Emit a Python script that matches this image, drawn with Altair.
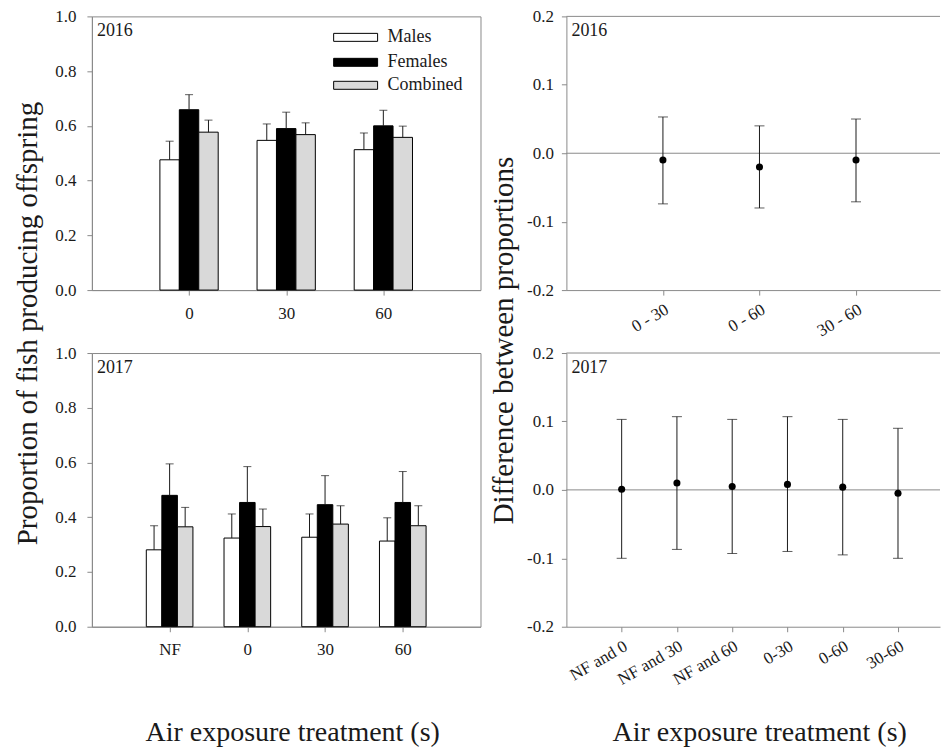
import altair as alt
import pandas as pd

FONT = "Liberation Serif"
FRAME = "#8a8a8a"
INK = "#1a1a1a"

# Bar series shared by both years
SERIES = ["Males", "Females", "Combined"]
FILLS = ["#ffffff", "#000000", "#d9d9d9"]

# 2016 proportions producing offspring (mean and upper error)
cats_2016 = ["0", "30", "60"]
males_2016 = [0.476, 0.547, 0.513]
males_2016_err = [0.068, 0.060, 0.061]
females_2016 = [0.659, 0.590, 0.600]
females_2016_err = [0.055, 0.060, 0.057]
combined_2016 = [0.577, 0.568, 0.558]
combined_2016_err = [0.044, 0.043, 0.041]

# 2017 proportions producing offspring
cats_2017 = ["NF", "0", "30", "60"]
males_2017 = [0.281, 0.324, 0.327, 0.313]
males_2017_err = [0.088, 0.088, 0.085, 0.085]
females_2017 = [0.480, 0.454, 0.446, 0.454]
females_2017_err = [0.115, 0.131, 0.106, 0.113]
combined_2017 = [0.365, 0.366, 0.375, 0.369]
combined_2017_err = [0.071, 0.064, 0.067, 0.073]

# Differences between proportions with confidence limits
pairs_2016 = ["0 - 30", "0 - 60", "30 - 60"]
diff_2016 = [-0.010, -0.020, -0.010]
diff_2016_lo = [-0.074, -0.080, -0.071]
diff_2016_hi = [0.053, 0.040, 0.050]

pairs_2017 = ["NF and 0", "NF and 30", "NF and 60", "0-30", "0-60", "30-60"]
diff_2017 = [0.001, 0.010, 0.005, 0.008, 0.004, -0.005]
diff_2017_lo = [-0.100, -0.087, -0.093, -0.090, -0.095, -0.100]
diff_2017_hi = [0.103, 0.107, 0.103, 0.107, 0.103, 0.090]

BAR_W = 0.2
LEFT_W, RIGHT_W, PANEL_H = 389, 374, 274
FILL_SCALE = alt.Scale(domain=SERIES, range=FILLS)
AXIS_STYLE = dict(labelFont=FONT, labelFontSize=17, labelColor=INK,
                  titleFont=FONT, titleColor=INK, titleFontWeight="normal",
                  domainColor=FRAME, tickColor=FRAME, tickSize=5, grid=False,
                  labelOverlap=False)


def label_expr(labels):
    return "[" + ", ".join(repr(s) for s in labels) + "][round(datum.value) - 1]"


def bar_table(cats, means, errs):
    rows = []
    for i, cat in enumerate(cats):
        for k, name in enumerate(SERIES):
            centre = i + 1 + (k - 1) * BAR_W
            v = means[k][i]
            rows.append({"cat": cat, "series": name, "value": v,
                         "top": v + errs[k][i], "centre": centre,
                         "left": centre - BAR_W / 2, "right": centre + BAR_W / 2})
    return pd.DataFrame(rows)


def year_text(year):
    return alt.Chart(pd.DataFrame({"year": [year]})).mark_text(
        align="left", baseline="top", fontSize=18, font=FONT, color=INK
    ).encode(x=alt.value(5), y=alt.value(6), text="year:N")


def bar_panel(cats, means, errs, year, legend, x_title, y_title):
    df = bar_table(cats, means, errs)
    n = len(cats)
    xs = alt.Scale(domain=[0, n + 1], nice=False, zero=False)
    ys = alt.Scale(domain=[0, 1], nice=False)
    x_axis = dict(AXIS_STYLE, values=list(range(1, n + 1)), labelExpr=label_expr(cats),
                  labelAngle=0, labelPadding=10)
    if x_title:
        x_axis.update(titleX=LEFT_W / 2 + 6, titleY=114, titleFontSize=28,
                      titleBaseline="alphabetic", titleAlign="center")
    y_axis = dict(AXIS_STYLE, values=[0, 0.2, 0.4, 0.6, 0.8, 1.0], format=".1f",
                  labelPadding=11)
    if y_title:
        y_axis.update(titleX=-64, titleY=307, titleFontSize=29, titleAngle=270,
                      titleAlign="center", titleBaseline="middle")

    def X(field):
        return alt.X(field, scale=xs, axis=alt.Axis(**x_axis), title=x_title)

    def Y(field):
        return alt.Y(field, scale=ys, axis=alt.Axis(**y_axis), title=y_title)

    base = alt.Chart(df)
    bars = base.mark_rect(stroke="black", strokeWidth=1).encode(
        x=X("left:Q"), x2="right:Q", y=Y("value:Q"), y2=alt.datum(0),
        fill=alt.Fill("series:N", scale=FILL_SCALE, legend=None),
    )
    whiskers = base.mark_rule(color=INK, strokeWidth=1).encode(
        x=X("centre:Q"), y=Y("value:Q"), y2="top:Q")
    caps = base.mark_tick(orient="horizontal", size=8, thickness=1, color=INK).encode(
        x=X("centre:Q"), y=Y("top:Q"))
    layers = [bars, whiskers, caps, year_text(year)]
    if legend:
        legend_df = pd.DataFrame({"series": SERIES})
        for row_y, name in zip([21, 46, 69], SERIES):
            one = alt.Chart(legend_df).transform_filter(alt.datum.series == name)
            layers.append(one.mark_tick(orient="horizontal", size=44, thickness=8,
                                        stroke="black", strokeWidth=1, opacity=1,
                                        filled=True).encode(
                x=alt.value(264), y=alt.value(row_y),
                fill=alt.Fill("series:N", scale=FILL_SCALE, legend=None)))
            layers.append(one.mark_text(align="left", baseline="middle", fontSize=18,
                                        font=FONT, color=INK).encode(
                x=alt.value(296), y=alt.value(row_y), text="series:N"))
    return alt.layer(*layers).properties(
        width=LEFT_W, height=PANEL_H, view=alt.ViewBackground(stroke=FRAME, strokeWidth=1))


def diff_panel(pairs, est, lo, hi, year, x_max, x_title, y_title):
    n = len(pairs)
    df = pd.DataFrame({"pair": pairs, "pos": list(range(1, n + 1)),
                       "est": est, "lo": lo, "hi": hi})
    xs = alt.Scale(domain=[0, x_max], nice=False, zero=False)
    ys = alt.Scale(domain=[-0.2, 0.2], nice=False)
    x_axis = dict(AXIS_STYLE, values=list(range(1, n + 1)), labelExpr=label_expr(pairs),
                  labelAngle=330, labelPadding=6)
    if x_title:
        x_axis.update(titleX=193, titleY=114, titleFontSize=28,
                      titleBaseline="alphabetic", titleAlign="center")
    y_axis = dict(AXIS_STYLE, values=[-0.2, -0.1, 0, 0.1, 0.2], labelPadding=8,
                  labelExpr="replace(format(datum.value, '.1f'), '\u2212', '-')")
    if y_title:
        y_axis.update(titleX=-63, titleY=324, titleFontSize=29, titleAngle=270,
                      titleAlign="center", titleBaseline="middle")

    def X(field):
        return alt.X(field, scale=xs, axis=alt.Axis(**x_axis), title=x_title)

    def Y(field):
        return alt.Y(field, scale=ys, axis=alt.Axis(**y_axis), title=y_title)

    zero_df = pd.DataFrame({"zero": [0.0]})
    zero_line = alt.Chart(zero_df).mark_rule(color=FRAME, strokeWidth=1).encode(
        y=Y("zero:Q"))
    top_edge = alt.Chart(zero_df).mark_rule(color=FRAME, strokeWidth=1).encode(
        y=alt.value(0))
    base = alt.Chart(df)
    bars = base.mark_rule(color=INK, strokeWidth=1).encode(
        x=X("pos:Q"), y=Y("lo:Q"), y2="hi:Q")
    cap_lo = base.mark_tick(orient="horizontal", size=10, thickness=1, color=INK).encode(
        x=X("pos:Q"), y=Y("lo:Q"))
    cap_hi = base.mark_tick(orient="horizontal", size=10, thickness=1, color=INK).encode(
        x=X("pos:Q"), y=Y("hi:Q"))
    dots = base.mark_circle(size=50, color="black", opacity=1).encode(
        x=X("pos:Q"), y=Y("est:Q"))
    return alt.layer(zero_line, top_edge, bars, cap_lo, cap_hi, dots,
                     year_text(year)).properties(
        width=RIGHT_W, height=PANEL_H,
        view=alt.ViewBackground(strokeOpacity=0))


top_left = bar_panel(cats_2016,
                     [males_2016, females_2016, combined_2016],
                     [males_2016_err, females_2016_err, combined_2016_err],
                     "2016", True, None, "Proportion of fish producing offspring")
bottom_left = bar_panel(cats_2017,
                        [males_2017, females_2017, combined_2017],
                        [males_2017_err, females_2017_err, combined_2017_err],
                        "2017", False, "Air exposure treatment (s)", None)
top_right = diff_panel(pairs_2016, diff_2016, diff_2016_lo, diff_2016_hi, "2016",
                       3.87, None, "Difference between proportions")
bottom_right = diff_panel(pairs_2017, diff_2017, diff_2017_lo, diff_2017_hi, "2017",
                          6.76, "Air exposure treatment (s)", None)

chart = alt.concat(
    top_left, top_right, bottom_left, bottom_right,
    columns=2, spacing={"row": 63, "column": 86}, bounds="flush",
).properties(
    padding={"left": 13, "top": 6, "right": 0, "bottom": 0},
    background="white",
).configure(font=FONT)

chart.save("out.html", embed_options={"renderer": "svg", "actions": False})
